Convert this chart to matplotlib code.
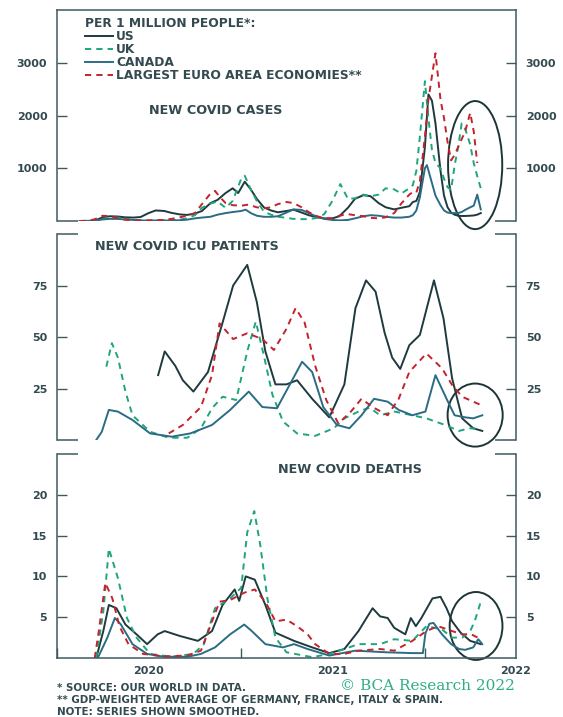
import matplotlib
matplotlib.use('Agg')
import matplotlib.pyplot as plt
import matplotlib.dates as mdates
from matplotlib.patches import Ellipse
import pandas as pd

plt.rcParams['font.family'] = ['DejaVu Sans']
plt.rcParams['font.weight'] = 'bold'

# ---- data (per 1 million people) ----
us_cases = [("2020-02-15", 0), ("2020-03-01", 0), ("2020-03-15", 5), ("2020-04-01", 70), ("2020-04-15", 90),
            ("2020-05-01", 85), ("2020-05-15", 70), ("2020-06-01", 65), ("2020-06-15", 75), ("2020-07-01", 150),
            ("2020-07-15", 200), ("2020-08-01", 190), ("2020-08-15", 155), ("2020-09-01", 125), ("2020-09-15", 115),
            ("2020-10-01", 140), ("2020-10-15", 190), ("2020-11-01", 340), ("2020-11-15", 400), ("2020-12-01", 530),
            ("2020-12-15", 620), ("2020-12-26", 530), ("2021-01-08", 745), ("2021-01-20", 600), ("2021-02-01", 420),
            ("2021-02-15", 260), ("2021-03-01", 200), ("2021-03-15", 165), ("2021-04-01", 190), ("2021-04-15", 215),
            ("2021-05-01", 160), ("2021-05-15", 110), ("2021-06-01", 70), ("2021-06-15", 50), ("2021-07-01", 50),
            ("2021-07-15", 90), ("2021-08-01", 250), ("2021-08-15", 420), ("2021-09-01", 490), ("2021-09-15", 470),
            ("2021-10-01", 340), ("2021-10-15", 260), ("2021-11-01", 220), ("2021-11-15", 250), ("2021-12-01", 280),
            ("2021-12-08", 360), ("2021-12-15", 380), ("2021-12-22", 550), ("2022-01-01", 1400), ("2022-01-08", 2400),
            ("2022-01-15", 2280), ("2022-01-22", 1850), ("2022-02-01", 950), ("2022-02-08", 480), ("2022-02-15", 260),
            ("2022-02-22", 160), ("2022-03-01", 120), ("2022-03-08", 100), ("2022-03-15", 95), ("2022-03-22", 95),
            ("2022-04-01", 100), ("2022-04-08", 105), ("2022-04-15", 120), ("2022-04-22", 150)]
uk_cases = [("2020-02-15", 0), ("2020-03-15", 10), ("2020-04-01", 40), ("2020-04-15", 70), ("2020-05-01", 65),
            ("2020-05-15", 45), ("2020-06-01", 25), ("2020-06-15", 15), ("2020-07-01", 10), ("2020-07-15", 10),
            ("2020-08-01", 12), ("2020-08-15", 15), ("2020-09-01", 25), ("2020-09-15", 50), ("2020-10-01", 110),
            ("2020-10-15", 250), ("2020-11-01", 330), ("2020-11-15", 370), ("2020-12-01", 250), ("2020-12-15", 380),
            ("2021-01-01", 800), ("2021-01-08", 860), ("2021-01-20", 600), ("2021-02-01", 380), ("2021-02-15", 180),
            ("2021-03-01", 120), ("2021-03-15", 80), ("2021-04-01", 60), ("2021-04-15", 40), ("2021-05-01", 35),
            ("2021-05-15", 35), ("2021-06-01", 60), ("2021-06-15", 130), ("2021-07-01", 380), ("2021-07-17", 700),
            ("2021-08-01", 420), ("2021-08-15", 430), ("2021-09-01", 500), ("2021-09-15", 470), ("2021-10-01", 500),
            ("2021-10-15", 620), ("2021-11-01", 600), ("2021-11-15", 520), ("2021-12-01", 620), ("2021-12-08", 680),
            ("2021-12-15", 950), ("2021-12-22", 1600), ("2022-01-01", 2650), ("2022-01-08", 1950), ("2022-01-15", 1350),
            ("2022-01-22", 1100), ("2022-02-01", 1000), ("2022-02-08", 800), ("2022-02-15", 640), ("2022-02-22", 590),
            ("2022-03-01", 1050), ("2022-03-08", 1400), ("2022-03-15", 1850), ("2022-03-22", 1750), ("2022-04-01", 1450),
            ("2022-04-08", 1100), ("2022-04-15", 850), ("2022-04-22", 620)]
ca_cases = [("2020-02-15", 0), ("2020-03-15", 5), ("2020-04-01", 30), ("2020-04-15", 40), ("2020-05-01", 40),
            ("2020-05-15", 30), ("2020-06-01", 20), ("2020-06-15", 10), ("2020-07-01", 8), ("2020-07-15", 10),
            ("2020-08-01", 10), ("2020-08-15", 10), ("2020-09-01", 15), ("2020-09-15", 25), ("2020-10-01", 50),
            ("2020-10-15", 65), ("2020-11-01", 80), ("2020-11-15", 120), ("2020-12-01", 150), ("2020-12-15", 170),
            ("2021-01-01", 190), ("2021-01-10", 215), ("2021-01-20", 150), ("2021-02-01", 100), ("2021-02-15", 80),
            ("2021-03-01", 80), ("2021-03-15", 90), ("2021-04-01", 160), ("2021-04-15", 220), ("2021-05-01", 210),
            ("2021-05-15", 150), ("2021-06-01", 80), ("2021-06-15", 40), ("2021-07-01", 20), ("2021-07-15", 12),
            ("2021-08-01", 20), ("2021-08-15", 50), ("2021-09-01", 90), ("2021-09-15", 110), ("2021-10-01", 100),
            ("2021-10-15", 80), ("2021-11-01", 65), ("2021-11-15", 65), ("2021-12-01", 80), ("2021-12-08", 110),
            ("2021-12-15", 200), ("2021-12-22", 450), ("2022-01-01", 1000), ("2022-01-05", 1060), ("2022-01-15", 720),
            ("2022-01-22", 480), ("2022-02-01", 300), ("2022-02-08", 200), ("2022-02-15", 160), ("2022-02-22", 150),
            ("2022-03-01", 150), ("2022-03-08", 150), ("2022-03-15", 170), ("2022-03-22", 210), ("2022-04-01", 260),
            ("2022-04-08", 290), ("2022-04-15", 500), ("2022-04-22", 220)]
eu_cases = [("2020-02-15", 0), ("2020-03-01", 2), ("2020-03-15", 30), ("2020-04-01", 100), ("2020-04-15", 90),
            ("2020-05-01", 50), ("2020-05-15", 25), ("2020-06-01", 12), ("2020-06-15", 8), ("2020-07-01", 8),
            ("2020-07-15", 12), ("2020-08-01", 20), ("2020-08-15", 40), ("2020-09-01", 70), ("2020-09-15", 100),
            ("2020-10-01", 150), ("2020-10-15", 320), ("2020-11-01", 520), ("2020-11-10", 570), ("2020-11-20", 450),
            ("2020-12-01", 340), ("2020-12-15", 300), ("2021-01-01", 290), ("2021-01-15", 310), ("2021-02-01", 260),
            ("2021-02-15", 240), ("2021-03-01", 260), ("2021-03-15", 320), ("2021-04-01", 360), ("2021-04-15", 340),
            ("2021-05-01", 260), ("2021-05-15", 170), ("2021-06-01", 90), ("2021-06-15", 50), ("2021-07-01", 50),
            ("2021-07-15", 100), ("2021-08-01", 130), ("2021-08-15", 110), ("2021-09-01", 90), ("2021-09-15", 60),
            ("2021-10-01", 50), ("2021-10-15", 70), ("2021-11-01", 150), ("2021-11-15", 330), ("2021-12-01", 500),
            ("2021-12-08", 550), ("2021-12-15", 540), ("2021-12-22", 750), ("2022-01-01", 1600), ("2022-01-08", 2300),
            ("2022-01-15", 2750), ("2022-01-22", 3180), ("2022-02-01", 2300), ("2022-02-08", 1950), ("2022-02-15", 1500),
            ("2022-02-22", 1150), ("2022-03-01", 1250), ("2022-03-08", 1400), ("2022-03-15", 1550), ("2022-03-22", 1700),
            ("2022-04-01", 2050), ("2022-04-08", 1700), ("2022-04-15", 1100)]

us_icu = [("2020-07-20", 31.5), ("2020-08-02", 43), ("2020-08-23", 36), ("2020-09-07", 29), ("2020-09-28", 23.5),
          ("2020-10-27", 33), ("2020-11-25", 57), ("2020-12-16", 75), ("2021-01-13", 85), ("2021-02-01", 67),
          ("2021-02-18", 43), ("2021-03-10", 27), ("2021-04-01", 27), ("2021-04-22", 29), ("2021-05-22", 20),
          ("2021-06-25", 11), ("2021-07-25", 27), ("2021-08-16", 64), ("2021-09-06", 77.5), ("2021-09-25", 72),
          ("2021-10-13", 52), ("2021-10-28", 40), ("2021-11-13", 34.5), ("2021-12-01", 46), ("2021-12-22", 51),
          ("2022-01-19", 77.5), ("2022-02-07", 59), ("2022-02-24", 30), ("2022-03-16", 10.5), ("2022-04-07", 5.7),
          ("2022-04-25", 4.4)]
uk_icu = [("2020-04-08", 35.6), ("2020-04-19", 47), ("2020-05-01", 40), ("2020-05-16", 23.5), ("2020-05-30", 12),
          ("2020-07-04", 4), ("2020-08-10", 1.1), ("2020-09-16", 1.1), ("2020-10-13", 5.7), ("2020-11-04", 15.4),
          ("2020-11-25", 21), ("2020-12-22", 19.4), ("2021-01-13", 43), ("2021-01-30", 57.5), ("2021-02-15", 41),
          ("2021-03-04", 22), ("2021-03-25", 9), ("2021-04-22", 3.2), ("2021-05-28", 2), ("2021-07-04", 5.7),
          ("2021-07-25", 10.5), ("2021-08-22", 13.8), ("2021-09-13", 15.7), ("2021-10-04", 12), ("2021-11-02", 13.8),
          ("2021-12-07", 12), ("2022-01-04", 10.5), ("2022-02-10", 7.3), ("2022-03-10", 4.4), ("2022-03-30", 5.7),
          ("2022-04-22", 5.3)]
ca_icu = [("2020-03-19", 0), ("2020-03-30", 4), ("2020-04-13", 14.6), ("2020-05-01", 13.8), ("2020-05-30", 9.7),
          ("2020-07-04", 3.2), ("2020-08-16", 1.6), ("2020-09-22", 3.2), ("2020-11-04", 7.3), ("2020-12-10", 14.6),
          ("2021-01-16", 23.5), ("2021-02-12", 16), ("2021-03-13", 15.4), ("2021-04-10", 28), ("2021-05-02", 38),
          ("2021-05-22", 33), ("2021-06-13", 16), ("2021-07-10", 7.3), ("2021-08-04", 5.7), ("2021-08-28", 12),
          ("2021-09-22", 20), ("2021-10-19", 18.6), ("2021-11-10", 14.6), ("2021-12-07", 12), ("2022-01-02", 13.8),
          ("2022-01-22", 31.5), ("2022-02-13", 20), ("2022-03-01", 12), ("2022-03-22", 11), ("2022-04-07", 10.5),
          ("2022-04-25", 12)]
eu_icu = [("2020-08-10", 3.2), ("2020-09-07", 7.3), ("2020-10-13", 16), ("2020-11-04", 31.5), ("2020-11-19", 56.6),
          ("2020-12-16", 49), ("2021-01-13", 51.8), ("2021-02-12", 49), ("2021-03-07", 43.7), ("2021-04-01", 54),
          ("2021-04-19", 64), ("2021-05-07", 57), ("2021-05-28", 36), ("2021-06-19", 19.4), ("2021-07-13", 8),
          ("2021-08-07", 13.8), ("2021-08-28", 20), ("2021-09-19", 16), ("2021-10-19", 12), ("2021-11-10", 20),
          ("2021-12-01", 33), ("2022-01-04", 42), ("2022-02-04", 34.8), ("2022-02-24", 26.7), ("2022-03-16", 21),
          ("2022-04-22", 17)]

us_deaths = [("2020-03-19", 0), ("2020-04-02", 3.3), ("2020-04-13", 6.5), ("2020-04-28", 6.1), ("2020-05-16", 4.1),
             ("2020-06-07", 2.9), ("2020-06-28", 1.7), ("2020-07-19", 2.9), ("2020-08-02", 3.3), ("2020-09-01", 2.7),
             ("2020-10-07", 2.1), ("2020-11-04", 3.3), ("2020-11-25", 6.5), ("2020-12-19", 8.4), ("2020-12-28", 7),
             ("2021-01-10", 10), ("2021-01-28", 9.6), ("2021-02-18", 6.5), ("2021-03-10", 3.1), ("2021-04-16", 2.1),
             ("2021-05-22", 1.3), ("2021-06-25", 0.6), ("2021-07-25", 1.1), ("2021-08-22", 3.3), ("2021-09-19", 6.1),
             ("2021-10-04", 5.1), ("2021-10-19", 4.9), ("2021-11-01", 3.7), ("2021-11-23", 2.9), ("2021-12-04", 4.9),
             ("2021-12-14", 3.9), ("2021-12-25", 4.9), ("2022-01-16", 7.3), ("2022-02-01", 7.5), ("2022-02-13", 6.1),
             ("2022-02-24", 4.5), ("2022-03-13", 3.1), ("2022-04-01", 2.1), ("2022-04-22", 1.7)]
uk_deaths = [("2020-03-19", 0), ("2020-04-02", 5.7), ("2020-04-13", 13.4), ("2020-05-01", 9.8), ("2020-05-19", 4.9),
             ("2020-06-07", 2.5), ("2020-07-04", 0.5), ("2020-08-16", 0.15), ("2020-09-28", 0.5), ("2020-10-19", 1.7),
             ("2020-11-10", 6.1), ("2020-12-10", 7.3), ("2021-01-01", 8.6), ("2021-01-13", 15.4), ("2021-01-27", 18),
             ("2021-02-08", 13.8), ("2021-02-22", 7.3), ("2021-03-10", 2.5), ("2021-04-01", 0.7), ("2021-05-22", 0.1),
             ("2021-06-25", 0.5), ("2021-07-25", 1.1), ("2021-08-22", 1.7), ("2021-10-04", 1.7), ("2021-11-01", 2.3),
             ("2021-12-07", 2.1), ("2022-01-04", 3.9), ("2022-02-04", 3.5), ("2022-02-24", 2.5), ("2022-03-16", 2.5),
             ("2022-04-01", 3.3), ("2022-04-10", 4.5), ("2022-04-22", 6.9)]
ca_deaths = [("2020-03-22", 0), ("2020-04-10", 2.5), ("2020-04-25", 4.9), ("2020-05-07", 4.1), ("2020-05-30", 1.7),
             ("2020-06-28", 0.5), ("2020-08-01", 0.15), ("2020-09-16", 0.15), ("2020-10-13", 0.5), ("2020-11-10", 1.3),
             ("2020-12-10", 2.9), ("2021-01-07", 4.1), ("2021-01-22", 3.3), ("2021-02-18", 1.7), ("2021-03-25", 1.3),
             ("2021-04-16", 1.7), ("2021-05-13", 1.1), ("2021-06-25", 0.3), ("2021-08-16", 0.9), ("2021-10-16", 0.7),
             ("2021-12-07", 0.6), ("2021-12-28", 0.6), ("2022-01-02", 3.0), ("2022-01-10", 4.2), ("2022-01-18", 4.3),
             ("2022-02-04", 2.9), ("2022-02-22", 1.7), ("2022-03-10", 1.1), ("2022-03-22", 1.0), ("2022-04-07", 1.3),
             ("2022-04-17", 2.3), ("2022-04-25", 1.7)]
eu_deaths = [("2020-03-16", 0), ("2020-03-25", 3.7), ("2020-04-06", 9.2), ("2020-04-20", 7.3), ("2020-05-04", 3.9),
             ("2020-05-22", 1.7), ("2020-06-20", 0.5), ("2020-08-01", 0.2), ("2020-09-16", 0.3), ("2020-10-13", 0.9),
             ("2020-11-04", 4.5), ("2020-11-19", 6.9), ("2020-12-10", 7.1), ("2021-01-07", 8), ("2021-01-28", 8.4),
             ("2021-02-18", 6.9), ("2021-03-10", 4.5), ("2021-04-01", 4.7), ("2021-04-22", 3.9), ("2021-05-13", 2.9),
             ("2021-05-28", 1.7), ("2021-06-25", 0.5), ("2021-07-25", 0.5), ("2021-08-22", 0.9), ("2021-10-04", 1.1),
             ("2021-11-01", 0.9), ("2021-12-07", 2.1), ("2022-01-04", 3.3), ("2022-01-27", 3.9), ("2022-02-24", 3.3),
             ("2022-03-16", 2.9), ("2022-04-03", 2.9), ("2022-04-16", 2.5)]

labels = ["US", "UK", "CANADA", "LARGEST EURO AREA ECONOMIES**"]
panel_titles = ["NEW COVID CASES", "NEW COVID ICU PATIENTS", "NEW COVID DEATHS"]
yticks = [[1000, 2000, 3000], [25, 50, 75], [5, 10, 15, 20]]
ylims = [4000, 100, 25]
panels = [[us_cases, uk_cases, ca_cases, eu_cases],
          [us_icu, uk_icu, ca_icu, eu_icu],
          [us_deaths, uk_deaths, ca_deaths, eu_deaths]]

colors = ['#1f3a3e', '#1fa57b', '#2b6c85', '#c4222c']
styles = ['-', (0, (3.2, 2.6)), '-', (0, (3.2, 2.6))]
frame_c = '#3f5a5f'
text_c = '#334a50'

W, H = 563, 717
fig = plt.figure(figsize=(W / 100, H / 100), dpi=100)
left, right = 57 / W, 516 / W
boxes = [(10, 221), (234, 440), (454, 658)]

# where each panel's circle sits (axes fractions)
circles = [(0.911, 0.265, 0.118, 0.607), (0.911, 0.121, 0.12, 0.306), (0.913, 0.157, 0.115, 0.333)]
title_pos = [(0.20, 0.526), (0.083, 0.937), (0.481, 0.926)]


def bracket(ax, y):
    for xs in ([0, 0.045], [0.955, 1]):
        ax.plot(xs, [y, y], transform=ax.transAxes, color=frame_c, lw=1.1,
                clip_on=False, solid_capstyle='butt')


axes = []
for i, (top, bot) in enumerate(boxes):
    ax = fig.add_axes([left, 1 - bot / H, right - left, (bot - top) / H])
    handles = []
    for s, c, ls in zip(panels[i], colors, styles):
        d = pd.to_datetime([p[0] for p in s])
        v = [p[1] for p in s]
        ln, = ax.plot(d, v, color=c, ls=ls, lw=1.4)
        handles.append(ln)
    ax.set_ylim(0, ylims[i])
    ax.set_xlim(pd.Timestamp('2020-01-01'), pd.Timestamp('2022-07-01'))
    ax.set_yticks(yticks[i])
    ax.tick_params(axis='y', direction='in', length=7, width=1.0, color=frame_c,
                   left=True, right=True, labelleft=True, labelright=True,
                   pad=7, labelsize=8, labelcolor=text_c)
    for sp in ax.spines.values():
        sp.set_color(frame_c)
        sp.set_linewidth(1.1)
    ax.spines['top'].set_visible(i == 0)
    ax.spines['bottom'].set_visible(i == 2)
    if i > 0:
        bracket(ax, 1)
    if i < 2:
        bracket(ax, 0)
        ax.tick_params(axis='x', which='both', bottom=False, labelbottom=False)
    else:
        ax.xaxis.set_major_locator(mdates.MonthLocator(bymonth=7))
        ax.xaxis.set_major_formatter(mdates.DateFormatter('%Y'))
        ax.xaxis.set_minor_locator(mdates.MonthLocator(bymonth=1))
        ax.tick_params(axis='x', which='major', length=0, pad=6, labelsize=8, labelcolor=text_c)
        ax.tick_params(axis='x', which='minor', direction='in', length=7, width=1.0, color=frame_c)
    ex, ey, ew, eh = circles[i]
    ax.add_patch(Ellipse((ex, ey), ew, eh, transform=ax.transAxes, fill=False,
                         ec='#1d3537', lw=1.4, clip_on=False))
    tx, ty = title_pos[i]
    ax.text(tx, ty, panel_titles[i], transform=ax.transAxes, fontsize=9.2,
            color=text_c, va='center', ha='left')
    axes.append(ax)
    if i == 0:
        leg = ax.legend(handles, labels, loc='upper left', bbox_to_anchor=(0.061, 0.965),
                        frameon=False, title="PER 1 MILLION PEOPLE*:", alignment='left',
                        handlelength=2.3, handletextpad=0.25, labelspacing=0.0,
                        borderpad=0, borderaxespad=0, fontsize=8.8, labelcolor=text_c,
                        title_fontproperties={'size': 8.8, 'weight': 'bold'})
        leg.get_title().set_color(text_c)

notes = ["* SOURCE: OUR WORLD IN DATA.",
         "** GDP-WEIGHTED AVERAGE OF GERMANY, FRANCE, ITALY & SPAIN.",
         "NOTE: SERIES SHOWN SMOOTHED."]
for k, n in enumerate(notes):
    fig.text(left, 1 - (688 + 12 * k) / H, n, fontsize=7.4, color=text_c, va='center', ha='left')
fig.text(515 / W, 1 - 686 / H, "© BCA Research 2022", family='DejaVu Serif', weight='normal',
         fontsize=11, color='#2fae86', va='center', ha='right')

fig.savefig('out.png', dpi=100)
